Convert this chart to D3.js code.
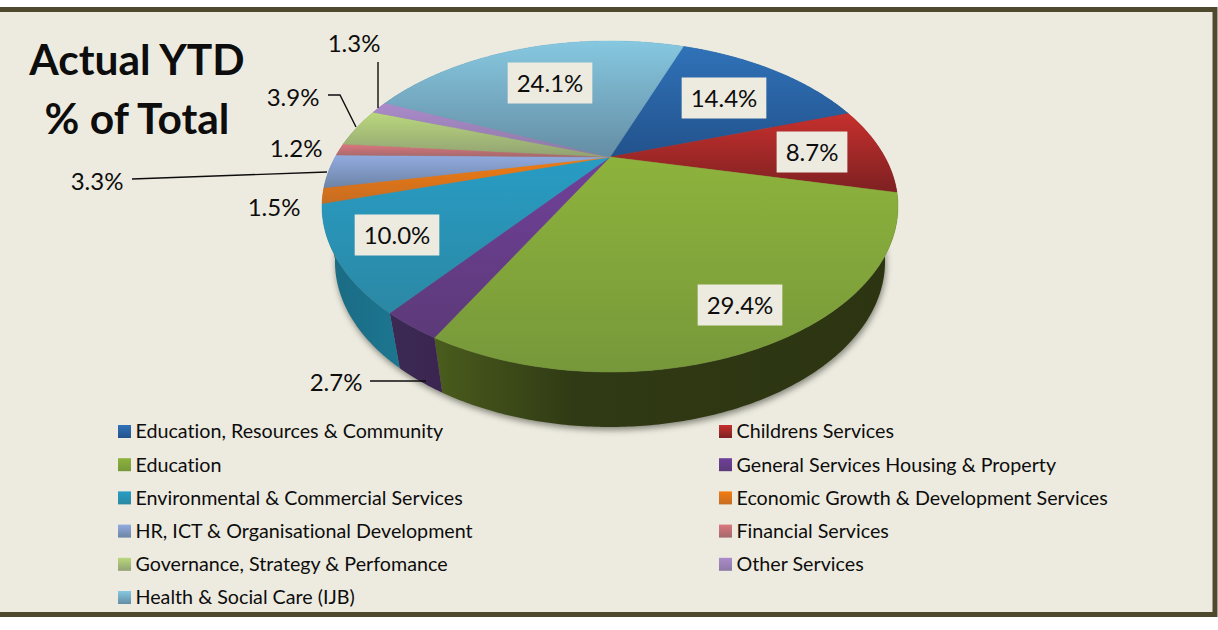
<!DOCTYPE html>
<html>
<head>
<meta charset="utf-8">
<script src="https://cdn.jsdelivr.net/npm/d3@7/dist/d3.min.js"></script>
<style>
  html, body { margin: 0; padding: 0; background: #fff; }
  svg { display: block; }
  text { font-family: Lato, "Open Sans", sans-serif; fill: #0d0d0d; font-variant-ligatures: none; }
</style>
</head>
<body>
<svg width="1218" height="630"></svg>
<script>
// values, clockwise from the blue slice
var categories = ["Education, Resources & Community", "Childrens Services", "Education",
  "General Services Housing & Property", "Environmental & Commercial Services",
  "Economic Growth & Development Services", "HR, ICT & Organisational Development",
  "Financial Services", "Governance, Strategy & Perfomance", "Other Services", "Health & Social Care (IJB)"];
var values = [14.4, 8.7, 29.4, 2.7, 10.0, 1.5, 3.3, 1.2, 3.9, 1.3, 24.1];
var topColors = ["#3072b8", "#c6302d", "#8db33c", "#70409a", "#289cc4", "#f27c10", "#92abe0", "#dc767e", "#bad87c", "#ab8bcb", "#86c8e0"];
var bottomColors = ["#22528c", "#7d2022", "#77983a", "#5c3a78", "#2b88a4", "#c66c22", "#6d84a6", "#a3696b", "#91a273", "#8d79a6", "#648da4"];
var wallColors = ["#1d4470", "#6a1c1c", "#4e6420", "#3e2a58", "#1f84a0", "#a85c14", "#5a6f90", "#8a5055", "#6f8040", "#6d5a88", "#4f7f96"];

var svg = d3.select("svg");
var defs = svg.append("defs");

// panel
svg.append("rect").attr("x", -8).attr("y", 9.5).attr("width", 1223).attr("height", 605)
  .attr("fill", "#edebe0").attr("stroke", "#4f4a2e").attr("stroke-width", 5);

// perspective disc: apex is not the middle of the ellipse
var cx = 610, cy = 157, R = 274.8, S = 150.7, k = 0.299, depth = 55, shrink = 0.955;
function project(r, a, down) {
  var u = r * Math.sin(a), v = -r * Math.cos(a), w = 1 - k * v;
  var s = down ? shrink : 1;
  return [cx + s * R * u / w, cy + S * v / w + (down ? depth : 0)];
}
var line = d3.line();
function rimAngles(a0, a1) {
  var n = Math.max(2, Math.ceil((a1 - a0) / 0.01));
  return d3.range(n + 1).map(function(i) { return a0 + (a1 - a0) * i / n; });
}

var pie = d3.pie().sort(null).startAngle(20 * Math.PI / 180).endAngle((20 + 360) * Math.PI / 180);
var arcs = pie(values);

arcs.forEach(function(d, i) {
  var g = defs.append("linearGradient").attr("id", "top" + i).attr("x1", 0).attr("y1", 0).attr("x2", 0).attr("y2", 1);
  g.append("stop").attr("offset", 0).attr("stop-color", topColors[i]);
  g.append("stop").attr("offset", 1).attr("stop-color", bottomColors[i]);
  var w = defs.append("linearGradient").attr("id", "wall" + i).attr("x1", 0).attr("y1", 0).attr("x2", 1).attr("y2", 0);
  if (i == 2) {
    w.attr("x1", 1).attr("x2", 0);
    w.append("stop").attr("offset", 0).attr("stop-color", "#2c3411");
    w.append("stop").attr("offset", 0.7).attr("stop-color", "#303a14");
    w.append("stop").attr("offset", 1).attr("stop-color", "#4a5c1d");
  } else if (i == 3) {
    w.append("stop").attr("offset", 0).attr("stop-color", "#3b2a55");
    w.append("stop").attr("offset", 1).attr("stop-color", "#3b2550");
  } else if (i == 4) {
    w.append("stop").attr("offset", 0).attr("stop-color", "#1b6a82");
    w.append("stop").attr("offset", 1).attr("stop-color", "#1c7690");
  } else {
    w.append("stop").attr("offset", 0).attr("stop-color", wallColors[i]);
    w.append("stop").attr("offset", 1).attr("stop-color", wallColors[i]);
  }
});

var blur = defs.append("filter").attr("id", "soft").attr("x", "-10%").attr("y", "-10%").attr("width", "120%").attr("height", "120%");
blur.append("feGaussianBlur").attr("stdDeviation", 3);

// shadow below the disc
var whole = rimAngles(0, 2 * Math.PI).map(function(a) { return project(1, a, true); });
svg.append("path").attr("d", line(whole) + "Z").attr("fill", "#5a5a50").attr("opacity", 0.7)
  .attr("transform", "translate(1,3)").attr("filter", "url(#soft)");

// walls
svg.append("g").selectAll("path").data(arcs).enter().append("path")
  .attr("fill", function(d, i) { return "url(#wall" + i + ")"; })
  .attr("d", function(d) {
    var as = rimAngles(d.startAngle, d.endAngle);
    var upper = as.map(function(a) { return project(1, a, false); });
    var lower = as.slice().reverse().map(function(a) { return project(1, a, true); });
    return line(upper.concat(lower)) + "Z";
  });

// top face
svg.append("g").selectAll("path").data(arcs).enter().append("path")
  .attr("fill", function(d, i) { return "url(#top" + i + ")"; })
  .attr("stroke", function(d, i) { return "url(#top" + i + ")"; })
  .attr("stroke-width", 0.5)
  .attr("d", function(d) {
    var pts = rimAngles(d.startAngle, d.endAngle).map(function(a) { return project(1, a, false); });
    return line([[cx, cy]].concat(pts)) + "Z";
  });

// title
var title = svg.append("g").attr("text-anchor", "middle").attr("font-weight", 700).attr("font-size", 42.5);
title.append("text").attr("x", 137).attr("y", 75).text("Actual YTD");
title.append("text").attr("x", 137).attr("y", 134).text("% of Total");

// leader lines
var leaders = [
  [[378, 62], [378, 108]],
  [[328, 95], [340, 95], [356, 127]],
  [[132, 179], [327, 172]],
  [[370, 381], [426, 381]]
];
svg.append("g").selectAll("path").data(leaders).enter().append("path")
  .attr("fill", "none").attr("stroke", "#0d0d0d").attr("stroke-width", 1.4)
  .attr("d", function(d) { return line(d); });

// slice labels, placed by hand like the original
var labelSpots = [[724, 98, 1], [812, 152, 1], [740, 305, 1], [336, 382, 0], [397, 235, 1],
  [274, 207, 0], [97, 181, 0], [296, 148, 0], [293, 97, 0], [354, 43, 0], [550, 83, 1]];
var labels = svg.append("g");
values.forEach(function(v, i) {
  var s = labelSpots[i], g = labels.append("g");
  var t = g.append("text").attr("x", s[0]).attr("y", s[1]).attr("dy", "0.36em")
    .attr("text-anchor", "middle").attr("font-size", 24).text(v.toFixed(1) + "%");
  if (s[2]) {
    var w = t.node().getComputedTextLength() + 18;
    g.insert("rect", "text").attr("x", s[0] - w / 2).attr("y", s[1] - 20.5)
      .attr("width", w).attr("height", 41).attr("fill", "#edebe0");
  }
});

// legend, filled row by row over two columns
var legendX = d3.scaleOrdinal().domain([0, 1]).range([118, 719]);
var legendY = d3.scaleLinear().domain([0, 5]).range([431.5, 597.5]);
var legend = svg.append("g").selectAll("g").data(categories).enter().append("g")
  .attr("transform", function(d, i) { return "translate(" + legendX(i % 2) + "," + legendY(Math.floor(i / 2)) + ")"; });
legend.append("rect").attr("x", 0).attr("y", -6.5).attr("width", 13).attr("height", 13)
  .attr("fill", function(d, i) { return "url(#top" + i + ")"; });
legend.append("text").attr("x", 17.5).attr("dy", "0.35em").attr("font-size", 19.7).text(function(d) { return d; });
</script>
</body>
</html>
